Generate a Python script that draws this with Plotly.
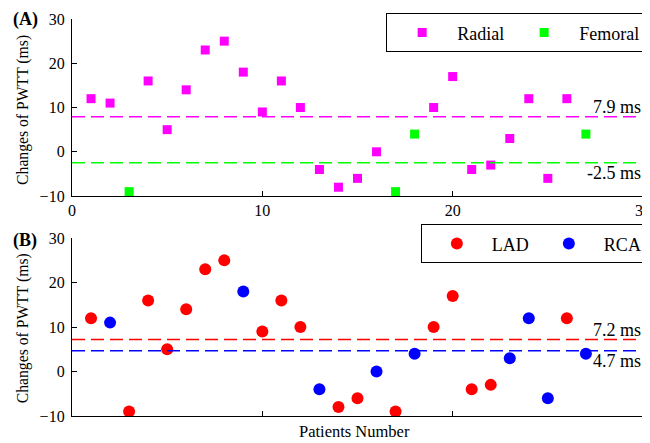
import plotly.graph_objects as go

# ---- data ----
patients = list(range(1, 28))
pwtt_change = [12, 11, -9, 16, 5, 14, 23, 25, 18, 9, 16, 10, -4, -8, -6, 0,
               -9, 4, 10, 17, -4, -3, 3, 12, -6, 12, 4]
access = ["Radial", "Radial", "Femoral", "Radial", "Radial", "Radial", "Radial",
          "Radial", "Radial", "Radial", "Radial", "Radial", "Radial", "Radial",
          "Radial", "Radial", "Femoral", "Femoral", "Radial", "Radial", "Radial",
          "Radial", "Radial", "Radial", "Radial", "Radial", "Femoral"]
artery = ["LAD", "RCA", "LAD", "LAD", "LAD", "LAD", "LAD", "LAD", "RCA", "LAD",
          "LAD", "LAD", "RCA", "LAD", "LAD", "RCA", "LAD", "RCA", "LAD", "LAD",
          "LAD", "LAD", "RCA", "RCA", "RCA", "LAD", "RCA"]
access_groups = ["Radial", "Femoral"]
access_means = [7.9, -2.5]
artery_groups = ["LAD", "RCA"]
artery_means = [7.2, 4.7]
x_span = [0, 30]
x_ticks = [0, 10, 20, 30]
y_ticks = [-10, 0, 10, 20, 30]

access_colors = {"Radial": "#ff00ff", "Femoral": "#00ff00"}
artery_colors = {"LAD": "#ff0000", "RCA": "#0000ff"}

FONT = "Liberation Serif, Times New Roman, serif"

fig = go.Figure()

# Panel A
for g in access_groups:
    xs = [p for p, a in zip(patients, access) if a == g]
    ys = [v for v, a in zip(pwtt_change, access) if a == g]
    fig.add_trace(go.Scatter(x=xs, y=ys, mode="markers", name=g,
                             marker=dict(symbol="square", size=9, color=access_colors[g]),
                             xaxis="x", yaxis="y", legend="legend"))
for g, m in zip(access_groups, access_means):
    fig.add_trace(go.Scatter(x=x_span, y=[m, m], mode="lines", showlegend=False,
                             line=dict(color=access_colors[g], width=1.5, dash="13px,6px"),
                             xaxis="x", yaxis="y", hoverinfo="skip"))

# Panel B
for g in artery_groups:
    xs = [p for p, a in zip(patients, artery) if a == g]
    ys = [v for v, a in zip(pwtt_change, artery) if a == g]
    fig.add_trace(go.Scatter(x=xs, y=ys, mode="markers", name=g,
                             marker=dict(symbol="circle", size=12, color=artery_colors[g]),
                             xaxis="x2", yaxis="y2", legend="legend2"))
for g, m in zip(artery_groups, artery_means):
    fig.add_trace(go.Scatter(x=x_span, y=[m, m], mode="lines", showlegend=False,
                             line=dict(color=artery_colors[g], width=1.5, dash="13px,6px"),
                             xaxis="x2", yaxis="y2", hoverinfo="skip"))

axis_common = dict(showgrid=False, zeroline=False, showline=True, linecolor="black",
                   linewidth=1.3, ticks="inside", ticklen=5, tickcolor="black",
                   tickwidth=1.2, ticklabeloverflow="allow",
                   tickfont=dict(family=FONT, size=16, color="black"))

# page body has an 8px default margin, so the figure origin sits at (8, 8)
fig.update_layout(
    width=650, height=435,
    margin=dict(l=64, r=15, t=11, b=27, autoexpand=False),
    plot_bgcolor="white", paper_bgcolor="white",
    font=dict(family=FONT, color="black"),
    xaxis=dict(domain=[0, 1], range=x_span, tickvals=x_ticks, anchor="y",
               ticklabelstandoff=0, automargin=False, **axis_common),
    yaxis=dict(domain=[0.554, 1], range=[-10, 30], tickvals=y_ticks, anchor="x",
               ticklabelstandoff=3, automargin=False, **axis_common),
    xaxis2=dict(domain=[0, 1], range=x_span, tickvals=x_ticks, anchor="y2",
                showticklabels=False, automargin=False, **axis_common),
    yaxis2=dict(domain=[0, 0.448], range=[-10, 30], tickvals=y_ticks, anchor="x2",
                ticklabelstandoff=3, automargin=False, **axis_common),
    legend=dict(orientation="h", x=1.005, xanchor="right", y=1.015, yanchor="top",
                bordercolor="black", borderwidth=1.3, bgcolor="white",
                font=dict(family=FONT, size=18, color="black"), itemwidth=60),
    legend2=dict(orientation="h", x=1.008, xanchor="right", y=0.4836, yanchor="top",
                 bordercolor="black", borderwidth=1.3, bgcolor="white",
                 font=dict(family=FONT, size=18, color="black"), itemwidth=60),
)

ann = []
# mean labels
for m, txt_anchor, ax, ay in [(access_means[0], "bottom", "x", "y"),
                              (access_means[1], "top", "x", "y"),
                              (artery_means[0], "bottom", "x2", "y2"),
                              (artery_means[1], "top", "x2", "y2")]:
    ann.append(dict(x=x_span[1], y=m, xref=ax, yref=ay, text=f"{m:.1f} ms",
                    showarrow=False, xanchor="right", yanchor=txt_anchor,
                    xshift=0, yshift=(-2 if txt_anchor == "bottom" else 2),
                    font=dict(family=FONT, size=18, color="black")))
# panel labels
ann.append(dict(x=-0.0823, y=0.9975, xref="paper", yref="paper", text="<b>(A)</b>",
                showarrow=False, xanchor="center", yanchor="middle",
                font=dict(family=FONT, size=18, color="black")))
ann.append(dict(x=-0.0823, y=0.4433, xref="paper", yref="paper", text="<b>(B)</b>",
                showarrow=False, xanchor="center", yanchor="middle",
                font=dict(family=FONT, size=18, color="black")))
# axis titles
ann.append(dict(x=-0.0858, y=0.771, xref="paper", yref="paper",
                text="Changes of PWTT (ms)", textangle=-90, showarrow=False,
                xanchor="center", yanchor="middle",
                font=dict(family=FONT, size=15.7, color="black")))
ann.append(dict(x=-0.0858, y=0.221, xref="paper", yref="paper",
                text="Changes of PWTT (ms)", textangle=-90, showarrow=False,
                xanchor="center", yanchor="middle",
                font=dict(family=FONT, size=15.7, color="black")))
ann.append(dict(x=0.4947, y=-0.0403, xref="paper", yref="paper",
                text="Patients Number", showarrow=False,
                xanchor="center", yanchor="middle",
                font=dict(family=FONT, size=16.5, color="black")))
fig.update_layout(annotations=ann)

fig.write_html("out.html")
